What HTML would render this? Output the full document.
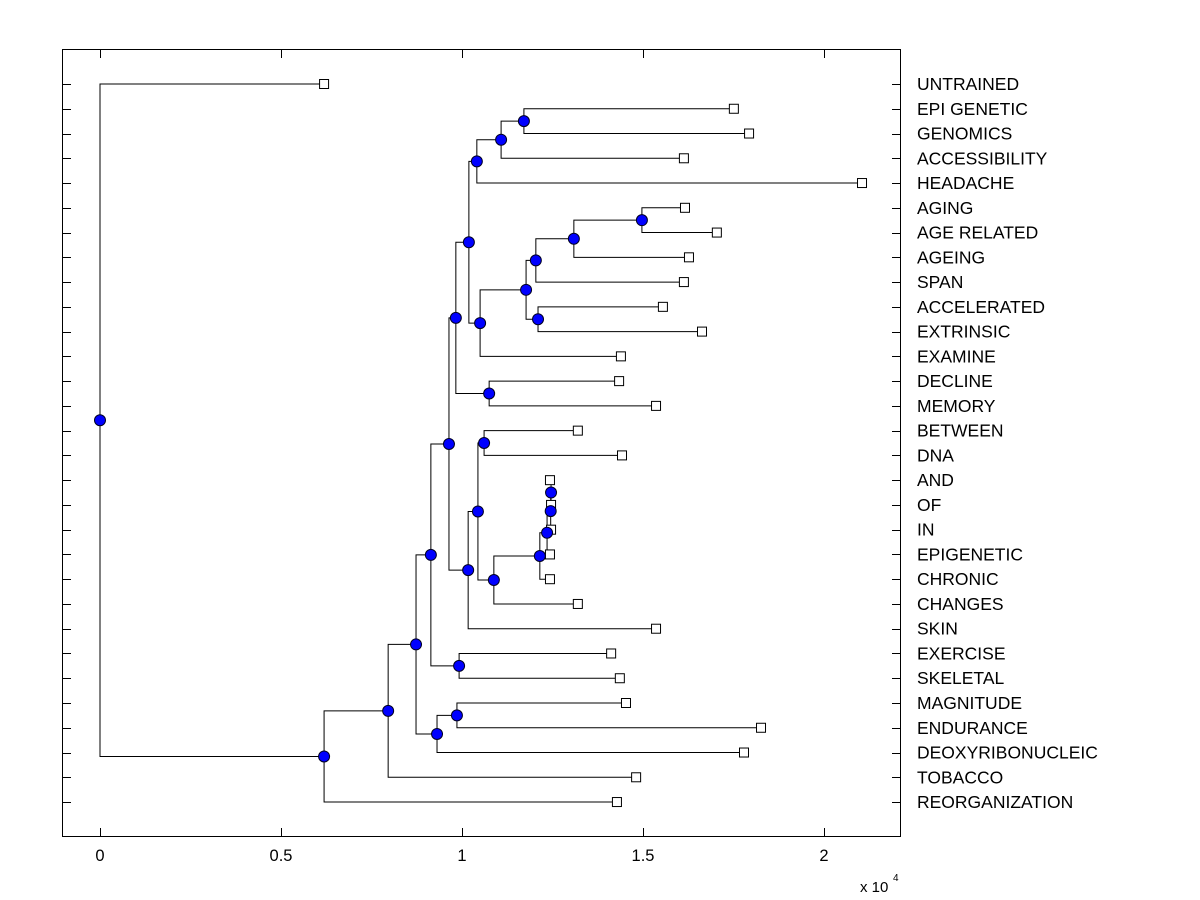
<!DOCTYPE html>
<html><head><meta charset="utf-8"><style>
html,body{margin:0;padding:0;background:#fff;}
svg{display:block;font-family:"Liberation Sans",Arial,sans-serif;}
</style></head><body>
<svg id="chart" width="1200" height="900" viewBox="0 0 1200 900" xmlns="http://www.w3.org/2000/svg">
<rect x="0" y="0" width="1200" height="900" fill="#fff"/>
<g id="marks"></g>
<g id="axes"></g>
</svg>
<script>
const labels = ["UNTRAINED","EPI GENETIC","GENOMICS","ACCESSIBILITY","HEADACHE","AGING","AGE RELATED","AGEING","SPAN","ACCELERATED","EXTRINSIC","EXAMINE","DECLINE","MEMORY","BETWEEN","DNA","AND","OF","IN","EPIGENETIC","CHRONIC","CHANGES","SKIN","EXERCISE","SKELETAL","MAGNITUDE","ENDURANCE","DEOXYRIBONUCLEIC","TOBACCO","REORGANIZATION"];
const leafValues = [0.619,1.751,1.793,1.613,2.105,1.616,1.704,1.627,1.613,1.555,1.663,1.439,1.434,1.536,1.320,1.442,1.243,1.246,1.246,1.243,1.243,1.320,1.536,1.412,1.436,1.453,1.826,1.779,1.481,1.428];
// merges: child ids (0..29 leaves, 30+ merge nodes in order)
const mergeLeft  = [1, 30, 31, 5, 33, 34, 9, 35, 37, 32, 12, 39, 14, 16, 43, 44, 45, 46, 42, 48, 49, 23, 50, 25, 53, 52, 55, 56, 0];
const mergeRight = [2, 3, 4, 6, 7, 8, 10, 36, 11, 38, 13, 40, 15, 17, 18, 19, 20, 21, 47, 22, 41, 24, 51, 26, 27, 54, 28, 29, 57];
const mergeHeights = [1.171,1.108,1.041,1.497,1.309,1.204,1.210,1.177,1.050,1.019,1.075,0.983,1.061,1.246,1.245,1.235,1.215,1.088,1.044,1.017,0.964,0.992,0.914,0.986,0.931,0.873,0.796,0.619,0.0];
const xTicks = [0,0.5,1,1.5,2];
const xTickLabels = ["0","0.5","1","1.5","2"];

const NS="http://www.w3.org/2000/svg";
const L=62,R=901,T=49,B=837;
const xs = v => 100 + v*362;
const rowY = i => 84 + i*24.76;
const marks=document.getElementById('marks'), axes=document.getElementById('axes');
function mk(tag,attrs,parent){const e=document.createElementNS(NS,tag);for(const k in attrs)e.setAttribute(k,attrs[k]);parent.appendChild(e);return e;}

const nodeX=[], nodeY=[];
leafValues.forEach((v,i)=>{nodeX.push(xs(v));nodeY.push(rowY(i));});
mergeHeights.forEach((h,k)=>{const a=mergeLeft[k],b=mergeRight[k];nodeX.push(xs(h));nodeY.push((nodeY[a]+nodeY[b])/2);});
const n=leafValues.length;
mergeHeights.forEach((h,k)=>{
  const a=mergeLeft[k],b=mergeRight[k],x=nodeX[n+k];
  const p=mk('path',{d:`M${nodeX[a]},${nodeY[a]}H${x}V${nodeY[b]}H${nodeX[b]}`,fill:'none',stroke:'#000','stroke-width':1},marks);
  
  
});
leafValues.forEach((v,i)=>{
  const r=mk('rect',{x:xs(v)-4.5,y:rowY(i)-4.5,width:9,height:9,fill:'#fff',stroke:'#000','stroke-width':1},marks);
  
  
});
mergeHeights.forEach((h,k)=>{
  const c=mk('circle',{cx:nodeX[n+k],cy:nodeY[n+k],r:5.5,fill:'#0000ff',stroke:'#000022','stroke-width':1},marks);
  
  
});
const box=mk('rect',{x:L+0.5,y:T+0.5,width:R-L-1,height:B-T-1,fill:'none',stroke:'#000','stroke-width':1},axes);


labels.forEach((lab,i)=>{
  const y=Math.round(rowY(i))+0.5;
  const t=mk('path',{d:`M${L},${y}H${L+9}M${R-9},${y}H${R}`,stroke:'#000','stroke-width':1},axes);
  
  
  const tx=mk('text',{x:917,y:rowY(i)+6,'font-size':17.5,fill:'#000'},axes);
  tx.textContent=lab;
  
  
});
xTicks.forEach((v,i)=>{
  const x=Math.round(xs(v))+0.5;
  const t=mk('path',{d:`M${x},${B}V${B-9}M${x},${T}V${T+9}`,stroke:'#000','stroke-width':1},axes);
  
  
  const tx=mk('text',{x:xs(v),y:861,'font-size':16.5,'text-anchor':'middle',fill:'#000'},axes);
  tx.textContent=xTickLabels[i];
  
  
});
const ex=mk('text',{x:860,y:892,'font-size':15,fill:'#000'},axes);
ex.textContent='x 10';


const sup=mk('text',{x:893,y:881,'font-size':10,fill:'#000'},axes);
sup.textContent='4';


</script>
</body></html>
